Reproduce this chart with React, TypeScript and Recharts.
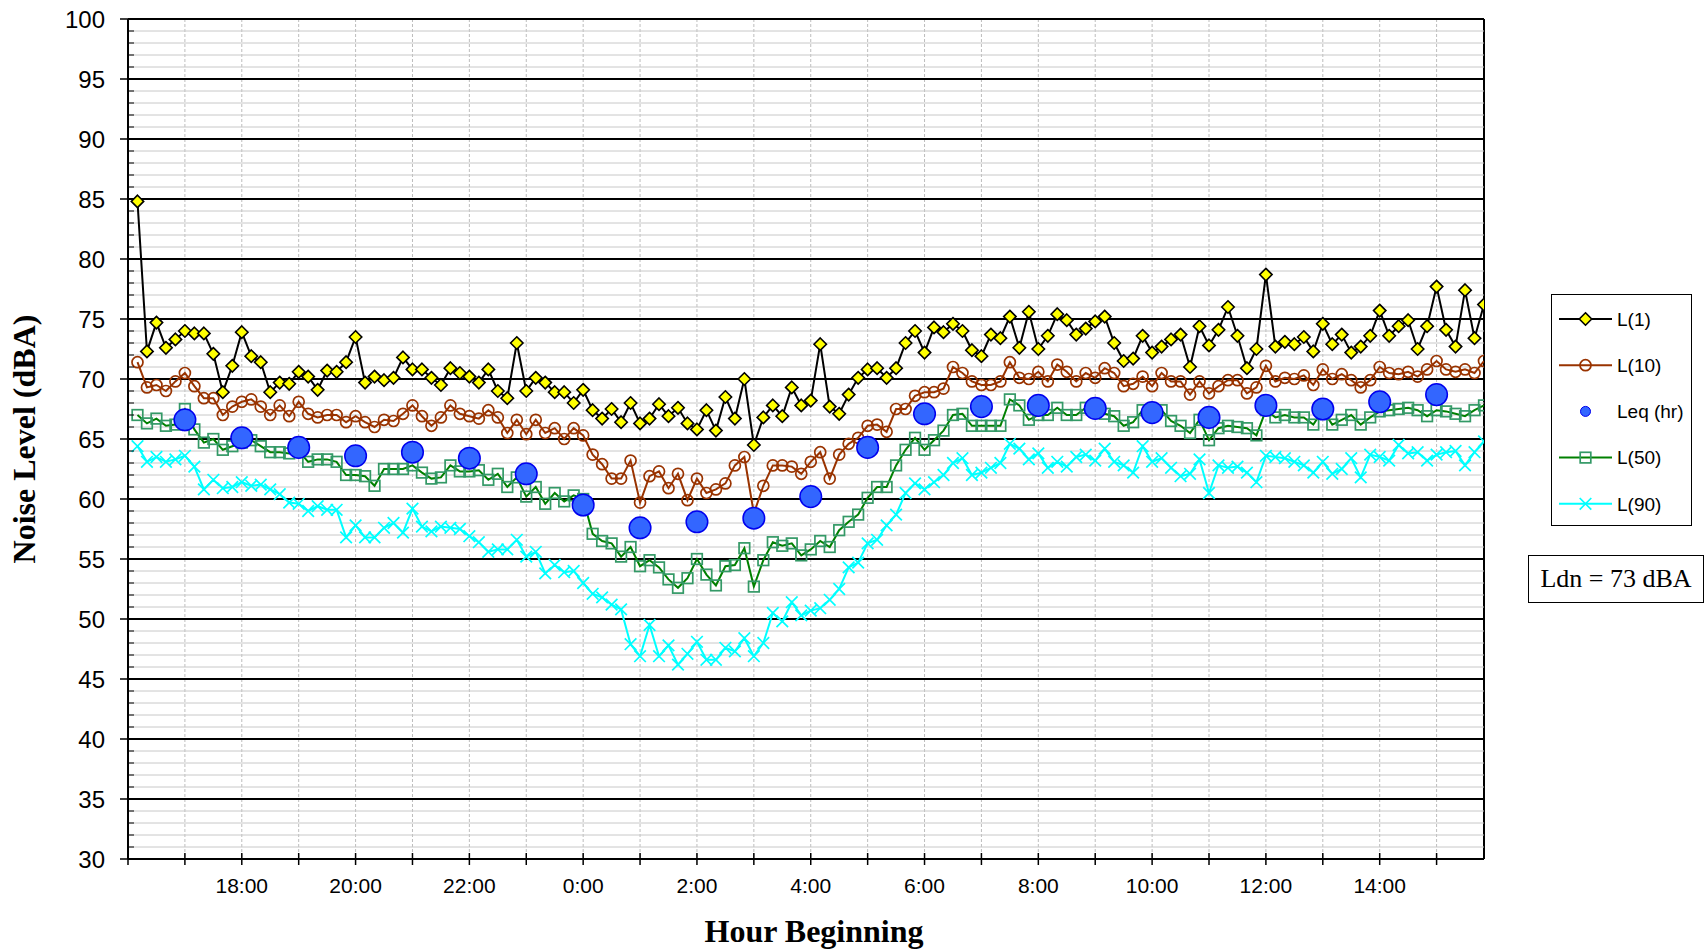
import React from 'react';
import { ComposedChart, Line, XAxis, YAxis, CartesianGrid, Legend } from 'recharts';

// 10-minute readings, 16:10 through 15:50 next day
const L1 = [
  84.8, 72.3, 74.7, 72.6, 73.3, 74.0, 73.8, 73.8, 72.1, 68.9, 71.1, 73.9, 71.9, 71.4, 68.9, 69.7, 69.6, 70.6, 70.2, 69.1, 70.7, 70.6, 71.4, 73.5,
  69.7, 70.2, 69.9, 70.1, 71.8, 70.8, 70.8, 70.1, 69.5, 70.9, 70.5, 70.2, 69.7, 70.8, 69.0, 68.4, 73.0, 69.0, 70.1, 69.7, 68.9, 68.9, 68.0, 69.1,
  67.4, 66.7, 67.5, 66.4, 68.0, 66.3, 66.7, 67.9, 66.9, 67.6, 66.3, 65.8, 67.4, 65.7, 68.5, 66.7, 70.0, 64.5, 66.8, 67.8, 66.9, 69.3, 67.8, 68.2,
  72.9, 67.7, 67.1, 68.7, 70.1, 70.8, 70.9, 70.1, 70.9, 73.0, 74.0, 72.2, 74.3, 73.9, 74.6, 74.0, 72.4, 71.9, 73.7, 73.4, 75.2, 72.6, 75.6, 72.5,
  73.6, 75.4, 74.9, 73.7, 74.2, 74.8, 75.2, 73.0, 71.5, 71.7, 73.6, 72.2, 72.7, 73.3, 73.7, 71.0, 74.4, 72.8, 74.1, 76.0, 73.6, 70.9, 72.5, 78.7,
  72.7, 73.1, 72.9, 73.5, 72.3, 74.6, 72.9, 73.7, 72.2, 72.7, 73.6, 75.7, 73.6, 74.4, 74.9, 72.5, 74.4, 77.7, 74.1, 72.7, 77.4, 73.4, 76.2,
];

const L10 = [
  71.4, 69.3, 69.5, 69.0, 69.8, 70.5, 69.4, 68.4, 68.4, 67.0, 67.7, 68.1, 68.3, 67.7, 67.0, 67.8, 66.9, 68.1, 67.1, 66.8, 67.0, 67.0, 66.4, 66.9,
  66.4, 66.0, 66.6, 66.5, 67.1, 67.8, 66.9, 66.1, 66.8, 67.8, 67.1, 66.9, 66.7, 67.4, 66.8, 65.5, 66.6, 65.4, 66.6, 65.5, 65.9, 65.0, 65.9, 65.3,
  63.7, 62.9, 61.7, 61.7, 63.2, 59.7, 61.9, 62.3, 60.9, 62.1, 59.9, 61.7, 60.5, 60.8, 61.3, 62.8, 63.5, 58.8, 61.1, 62.8, 62.8, 62.7, 62.1, 63.1,
  63.9, 61.7, 63.7, 64.6, 65.1, 66.1, 66.2, 65.6, 67.5, 67.5, 68.6, 68.9, 68.9, 69.2, 71.0, 70.5, 69.8, 69.5, 69.5, 69.8, 71.4, 70.1, 70.0, 70.6,
  69.8, 71.2, 70.6, 69.8, 70.5, 70.1, 70.9, 70.5, 69.4, 69.6, 70.2, 69.4, 70.5, 69.8, 69.8, 68.7, 69.8, 68.8, 69.4, 69.9, 69.9, 68.8, 69.3, 71.1,
  69.8, 70.1, 70.0, 70.3, 69.5, 70.8, 70.0, 70.4, 69.9, 69.3, 69.9, 71.0, 70.5, 70.4, 70.6, 70.2, 70.8, 71.5, 70.8, 70.6, 70.8, 70.5, 71.5,
];

const L50 = [
  67.0, 66.3, 66.7, 66.1, 66.2, 67.5, 65.8, 64.7, 65.0, 64.1, 64.4, 64.7, 64.9, 64.4, 63.9, 63.9, 63.8, 64.0, 63.1, 63.3, 63.3, 63.1, 62.0, 62.0,
  61.9, 61.1, 62.5, 62.5, 62.5, 62.8, 62.2, 61.7, 61.8, 62.8, 62.3, 62.3, 62.4, 61.6, 62.1, 61.0, 61.8, 60.2, 61.0, 59.6, 60.5, 59.8, 60.3, 60.0,
  57.1, 56.5, 56.3, 55.2, 56.0, 54.4, 54.9, 54.3, 53.3, 52.6, 53.4, 55.0, 53.7, 52.8, 54.4, 54.5, 55.9, 52.7, 54.9, 56.4, 56.1, 56.3, 55.3, 55.8,
  56.5, 56.0, 57.4, 58.1, 58.7, 60.1, 61.0, 61.0, 62.8, 64.1, 65.1, 64.1, 64.9, 65.7, 67.0, 67.1, 66.1, 66.1, 66.1, 66.1, 68.3, 67.8, 66.6, 67.0,
  67.0, 67.6, 67.0, 67.0, 67.6, 67.6, 67.1, 66.9, 66.1, 66.4, 67.4, 67.4, 67.4, 66.5, 66.1, 65.5, 66.6, 64.9, 65.9, 66.1, 66.0, 65.9, 65.3, 67.4,
  66.8, 67.0, 66.8, 66.8, 66.2, 67.4, 66.2, 66.6, 67.0, 66.2, 66.8, 67.3, 67.4, 67.5, 67.6, 67.4, 66.9, 67.4, 67.3, 67.1, 66.9, 67.4, 67.8,
];

const L90 = [
  64.4, 63.1, 63.5, 63.1, 63.3, 63.6, 62.7, 60.8, 61.6, 60.9, 61.0, 61.4, 61.1, 61.2, 60.8, 60.4, 59.7, 59.6, 59.0, 59.4, 59.1, 59.1, 56.8, 57.8,
  56.8, 56.8, 57.6, 58.0, 57.2, 59.2, 57.7, 57.3, 57.7, 57.6, 57.5, 56.9, 56.4, 55.6, 55.8, 55.8, 56.6, 55.2, 55.6, 53.8, 54.5, 53.9, 54.0, 53.0,
  52.1, 51.8, 51.2, 50.8, 47.9, 46.9, 49.5, 46.9, 47.8, 46.2, 47.1, 48.1, 46.6, 46.6, 47.6, 47.3, 48.4, 46.9, 48.0, 50.5, 49.8, 51.4, 50.3, 50.7,
  50.9, 51.6, 52.5, 54.3, 54.7, 56.3, 56.6, 57.8, 58.7, 60.5, 61.3, 60.8, 61.4, 62.0, 63.0, 63.4, 62.0, 62.2, 62.6, 63.0, 64.6, 64.2, 63.3, 63.8,
  62.6, 63.1, 62.7, 63.5, 63.7, 63.2, 64.2, 63.1, 62.8, 62.2, 64.4, 63.1, 63.4, 62.6, 61.9, 62.1, 63.3, 60.5, 62.8, 62.6, 62.7, 62.2, 61.4, 63.6,
  63.5, 63.4, 63.1, 62.8, 62.2, 63.1, 62.1, 62.5, 63.4, 61.8, 63.7, 63.5, 63.2, 64.5, 63.8, 63.9, 63.2, 63.7, 63.9, 64.0, 62.8, 63.9, 64.8,
];

// hourly Leq, 17:00 through 15:00
const LEQ = [
  66.6, 65.1, 64.3, 63.6, 63.9, 63.4, 62.1, 59.5, 57.6, 58.1, 58.4, 60.2,
  64.3, 67.1, 67.7, 67.8, 67.55, 67.2, 66.8, 67.8, 67.5, 68.1, 68.7,
];

const HOUR_LABELS = [
  '16:00', '17:00', '18:00', '19:00', '20:00', '21:00', '22:00', '23:00', '0:00', '1:00', '2:00', '3:00',
  '4:00', '5:00', '6:00', '7:00', '8:00', '9:00', '10:00', '11:00', '12:00', '13:00', '14:00', '15:00',
];

const X_MAX = L1.length / 6;
const HOUR_TICKS = HOUR_LABELS.map((_, i) => i);
const GRID_X_TICKS = [...HOUR_TICKS, X_MAX];
const LEVEL_TICKS = Array.from({ length: 71 }, (_, i) => 30 + i);

const data = L1.map((v, i) => ({
  t: (i + 1) / 6,
  l1: v,
  l10: L10[i],
  l50: L50[i],
  l90: L90[i],
  leq: (i + 1) % 6 === 0 ? LEQ[(i + 1) / 6 - 1] : undefined,
}));

const SANS = '"Liberation Sans", Arial, sans-serif';
const SERIF = '"Liberation Serif", "Times New Roman", serif';

// markers
const Diamond = (p: any) => {
  const { cx, cy, index } = p;
  if (cx == null || cy == null) return <g key={`d${index}`} />;
  const s = 6.2;
  return (
    <path key={`d${index}`} d={`M${cx},${cy - s}L${cx + s},${cy}L${cx},${cy + s}L${cx - s},${cy}Z`}
      fill="#FFFF00" stroke="#000" strokeWidth={1.6} />
  );
};

const Ring = (p: any) => {
  const { cx, cy, index } = p;
  if (cx == null || cy == null) return <g key={`r${index}`} />;
  return <circle key={`r${index}`} cx={cx} cy={cy} r={5.5} fill="none" stroke="#993300" strokeWidth={1.7} />;
};

const Box = (p: any) => {
  const { cx, cy, index } = p;
  if (cx == null || cy == null) return <g key={`b${index}`} />;
  return <rect key={`b${index}`} x={cx - 5.3} y={cy - 5.3} width={10.6} height={10.6} fill="none" stroke="#339966" strokeWidth={1.7} />;
};

const Cross = (p: any) => {
  const { cx, cy, index } = p;
  if (cx == null || cy == null) return <g key={`x${index}`} />;
  const s = 5.8;
  return (
    <path key={`x${index}`} d={`M${cx - s},${cy - s}L${cx + s},${cy + s}M${cx - s},${cy + s}L${cx + s},${cy - s}`}
      stroke="#00FFFF" strokeWidth={1.7} />
  );
};

const Dot = (p: any) => {
  const { cx, cy, index } = p;
  if (cx == null || cy == null) return <g key={`q${index}`} />;
  return <circle key={`q${index}`} cx={cx} cy={cy} r={10.8} fill="#3366FF" stroke="#0000EE" strokeWidth={1.5} />;
};

// axis ticks
const HourTick = (p: any) => {
  const { x, y, payload } = p;
  const h = payload.value;
  const showLabel = h % 2 === 0 && h > 0;
  return (
    <g>
      <line x1={x} x2={x} y1={y - 6} y2={y + 6} stroke="#000" strokeWidth={1.5} />
      {showLabel && (
        <text x={x} y={y + 19} dy="0.72em" textAnchor="middle" fontFamily={SANS} fontSize={21} fill="#000">
          {HOUR_LABELS[h]}
        </text>
      )}
    </g>
  );
};

const LevelTick = (p: any) => {
  const { x, y, payload } = p;
  const v = payload.value;
  if (v % 5 === 0) {
    return (
      <g>
        <line x1={x - 8} x2={x} y1={y} y2={y} stroke="#000" strokeWidth={1.5} />
        <text x={x - 23} y={y} dy="0.36em" textAnchor="end" fontFamily={SANS} fontSize={24} fill="#000">{v}</text>
      </g>
    );
  }
  return <line x1={x} x2={x + 6} y1={y} y2={y} stroke="#000" strokeWidth={1} />;
};

// grid lines
const hLine = (p: any) => {
  const { x1, x2, y1, index } = p;
  const major = index % 5 === 0;
  return (
    <line key={`h${index}`} x1={x1} x2={x2} y1={y1} y2={y1}
      stroke={major ? '#000' : '#C8C8C8'} strokeWidth={major ? 2 : 1} />
  );
};

const vLine = (p: any) => {
  const { x1, y1, y2, index } = p;
  const border = index === GRID_X_TICKS.length - 1;
  return (
    <line key={`v${index}`} x1={x1} x2={x1} y1={y1} y2={y2}
      stroke={border ? '#000' : '#BDBDBD'} strokeWidth={border ? 2 : 1}
      strokeDasharray={border ? undefined : '3 2'} />
  );
};

const LEGEND_ITEMS = [
  { name: 'L(1)', color: '#000', marker: 'diamond' },
  { name: 'L(10)', color: '#993300', marker: 'ring' },
  { name: 'Leq (hr)', color: 'none', marker: 'dot' },
  { name: 'L(50)', color: '#008000', marker: 'box' },
  { name: 'L(90)', color: '#00FFFF', marker: 'cross' },
];

const LegendBox = () => (
  <svg width={141} height={232} style={{ display: 'block' }}>
    <rect x={0.5} y={0.5} width={140} height={231} fill="#fff" stroke="#000" strokeWidth={1} />
    {LEGEND_ITEMS.map((it, i) => {
      const cy = 25 + i * 46.2;
      const cx = 34.5;
      let mk: React.ReactNode = null;
      if (it.marker === 'diamond') mk = <Diamond cx={cx} cy={cy} index={i} />;
      if (it.marker === 'ring') mk = <Ring cx={cx} cy={cy} index={i} />;
      if (it.marker === 'dot') mk = <circle cx={cx} cy={cy} r={5} fill="#3366FF" stroke="#0000EE" strokeWidth={1} />;
      if (it.marker === 'box') mk = <Box cx={cx} cy={cy} index={i} />;
      if (it.marker === 'cross') mk = <Cross cx={cx} cy={cy} index={i} />;
      return (
        <g key={it.name}>
          {it.color !== 'none' && <line x1={8} x2={61} y1={cy} y2={cy} stroke={it.color} strokeWidth={2} />}
          {mk}
          <text x={66} y={cy} dy="0.36em" fontFamily={SANS} fontSize={19} fill="#000">{it.name}</text>
        </g>
      );
    })}
  </svg>
);

const YTitle = (p: any) => {
  const { viewBox } = p;
  const cx = viewBox.x - 44;
  const cy = viewBox.y + viewBox.height / 2;
  return (
    <text x={cx} y={cy} transform={`rotate(-90 ${cx} ${cy})`} textAnchor="middle" dy="0.35em"
      fontFamily={SERIF} fontWeight="bold" fontSize={32} fill="#000">
      Noise Level (dBA)
    </text>
  );
};

const XTitle = (p: any) => {
  const { viewBox } = p;
  return (
    <text x={viewBox.x + viewBox.width / 2 + 8} y={viewBox.y + 83} textAnchor="middle"
      fontFamily={SERIF} fontWeight="bold" fontSize={32} fill="#000">
      Hour Beginning
    </text>
  );
};

export default function App() {
  return (
    <div style={{ position: 'absolute', left: 0, top: 0, width: 1705, height: 951, background: '#fff' }}>
      <ComposedChart width={1705} height={951} data={data} margin={{ top: 19, right: 221, bottom: 52, left: 68 }}>
        <CartesianGrid horizontal={false} vertical={vLine} />
        <CartesianGrid vertical={false} horizontal={hLine} />
        <XAxis dataKey="t" type="number" domain={[0, X_MAX]} ticks={GRID_X_TICKS} interval={0}
          height={40} tickSize={0} tickMargin={0} tickLine={false}
          axisLine={{ stroke: '#000', strokeWidth: 2 }}
          tick={(p: any) => (p.payload.value >= X_MAX - 0.01 ? <g /> : <HourTick {...p} />)}
          allowDataOverflow label={{ content: (p: any) => <XTitle {...p} /> }} />
        <YAxis type="number" domain={[30, 100]} ticks={LEVEL_TICKS} interval={0} width={60}
          tickSize={0} tickMargin={0} tickLine={false}
          axisLine={{ stroke: '#000', strokeWidth: 2 }} tick={(p: any) => <LevelTick {...p} />}
          allowDataOverflow label={{ content: (p: any) => <YTitle {...p} /> }} />
        <Line dataKey="l90" name="L(90)" stroke="#00FFFF" strokeWidth={2} dot={Cross} activeDot={false} isAnimationActive={false} />
        <Line dataKey="l50" name="L(50)" stroke="#008000" strokeWidth={2} dot={Box} activeDot={false} isAnimationActive={false} />
        <Line dataKey="l10" name="L(10)" stroke="#993300" strokeWidth={2} dot={Ring} activeDot={false} isAnimationActive={false} />
        <Line dataKey="l1" name="L(1)" stroke="#000" strokeWidth={2} dot={Diamond} activeDot={false} isAnimationActive={false} />
        <Line dataKey="leq" name="Leq (hr)" stroke="none" dot={Dot} activeDot={false} isAnimationActive={false} />
        <Legend layout="horizontal" verticalAlign="middle" align="center" content={() => <LegendBox />}
          wrapperStyle={{ position: 'absolute', left: 1551, top: 294, width: 141, height: 232 }} />
      </ComposedChart>
      <div style={{
        position: 'absolute', left: 1528, top: 555, width: 176, height: 48, boxSizing: 'border-box',
        border: '1px solid #000', fontFamily: SERIF, fontSize: 26, lineHeight: '46px', textAlign: 'center', color: '#000',
      }}>
        Ldn = 73 dBA
      </div>
    </div>
  );
}
